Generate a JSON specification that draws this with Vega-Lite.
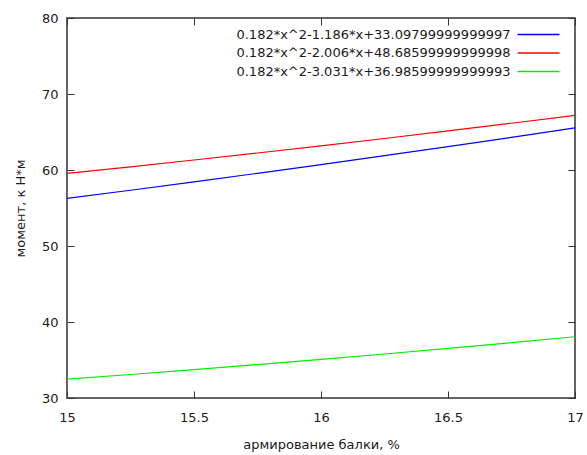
{
  "$schema": "https://vega.github.io/schema/vega-lite/v6.json",
  "width": 508,
  "height": 380,
  "autosize": {"type": "none"},
  "padding": {"left": 67, "top": 18, "right": 12, "bottom": 57},
  "background": "white",
  "config": {
    "font": "DejaVu Sans",
    "view": {"stroke": "#333333", "strokeWidth": 1.5},
    "axis": {"grid": false, "domain": false, "labelFont": "DejaVu Sans", "titleFont": "DejaVu Sans", "labelFontSize": 13, "titleFontSize": 13, "titleFontWeight": "normal", "labelColor": "#1a1a1a", "titleColor": "#1a1a1a", "tickColor": "#333333", "tickWidth": 1}
  },
  "data": {"values": [
    {"x": 15, "y": 56.258, "s": "0.182*x^2-1.186*x+33.09799999999997"},
    {"x": 15.25, "y": 57.338, "s": "0.182*x^2-1.186*x+33.09799999999997"},
    {"x": 15.5, "y": 58.441, "s": "0.182*x^2-1.186*x+33.09799999999997"},
    {"x": 15.75, "y": 59.566, "s": "0.182*x^2-1.186*x+33.09799999999997"},
    {"x": 16, "y": 60.714, "s": "0.182*x^2-1.186*x+33.09799999999997"},
    {"x": 16.25, "y": 61.885, "s": "0.182*x^2-1.186*x+33.09799999999997"},
    {"x": 16.5, "y": 63.079, "s": "0.182*x^2-1.186*x+33.09799999999997"},
    {"x": 16.75, "y": 64.295, "s": "0.182*x^2-1.186*x+33.09799999999997"},
    {"x": 17, "y": 65.534, "s": "0.182*x^2-1.186*x+33.09799999999997"},
    {"x": 15, "y": 59.546, "s": "0.182*x^2-2.006*x+48.68599999999998"},
    {"x": 15.25, "y": 60.421, "s": "0.182*x^2-2.006*x+48.68599999999998"},
    {"x": 15.5, "y": 61.319, "s": "0.182*x^2-2.006*x+48.68599999999998"},
    {"x": 15.75, "y": 62.239, "s": "0.182*x^2-2.006*x+48.68599999999998"},
    {"x": 16, "y": 63.182, "s": "0.182*x^2-2.006*x+48.68599999999998"},
    {"x": 16.25, "y": 64.148, "s": "0.182*x^2-2.006*x+48.68599999999998"},
    {"x": 16.5, "y": 65.137, "s": "0.182*x^2-2.006*x+48.68599999999998"},
    {"x": 16.75, "y": 66.148, "s": "0.182*x^2-2.006*x+48.68599999999998"},
    {"x": 17, "y": 67.182, "s": "0.182*x^2-2.006*x+48.68599999999998"},
    {"x": 15, "y": 32.471, "s": "0.182*x^2-3.031*x+36.98599999999993"},
    {"x": 15.25, "y": 33.090, "s": "0.182*x^2-3.031*x+36.98599999999993"},
    {"x": 15.5, "y": 33.731, "s": "0.182*x^2-3.031*x+36.98599999999993"},
    {"x": 15.75, "y": 34.395, "s": "0.182*x^2-3.031*x+36.98599999999993"},
    {"x": 16, "y": 35.082, "s": "0.182*x^2-3.031*x+36.98599999999993"},
    {"x": 16.25, "y": 35.792, "s": "0.182*x^2-3.031*x+36.98599999999993"},
    {"x": 16.5, "y": 36.524, "s": "0.182*x^2-3.031*x+36.98599999999993"},
    {"x": 16.75, "y": 37.279, "s": "0.182*x^2-3.031*x+36.98599999999993"},
    {"x": 17, "y": 38.057, "s": "0.182*x^2-3.031*x+36.98599999999993"}
  ]},
  "layer": [
    {
      "mark": {"type": "line", "strokeWidth": 1.2, "clip": true},
      "encoding": {
        "x": {"field": "x", "type": "quantitative", "scale": {"domain": [15, 17], "nice": false, "zero": false},
              "axis": {"orient": "bottom", "title": "армирование балки, %", "values": [15, 15.5, 16, 16.5, 17], "format": "~g", "tickSize": -7, "labelPadding": 20, "titlePadding": 14, "labelFlush": false}},
        "y": {"field": "y", "type": "quantitative", "scale": {"domain": [30, 80], "nice": false, "zero": false},
              "axis": {"orient": "left", "title": "момент, к Н*м", "values": [30, 40, 50, 60, 70, 80], "tickSize": -7, "labelPadding": 16, "titlePadding": 14}},
        "color": {"field": "s", "type": "nominal",
                  "sort": ["0.182*x^2-1.186*x+33.09799999999997", "0.182*x^2-2.006*x+48.68599999999998", "0.182*x^2-3.031*x+36.98599999999993"],
                  "scale": {"range": ["#0000ff", "#ff0000", "#00ee00"]},
                  "legend": {"title": null, "orient": "none", "legendX": 461.5, "legendY": 6.5, "padding": 0,
                             "symbolType": "M-2.333,0H2.333", "symbolSize": 324, "symbolStrokeWidth": 1.3, "symbolOpacity": 1,
                             "rowPadding": 1.5, "labelAlign": "right", "labelOffset": -38,
                             "labelFontSize": 13, "labelFont": "DejaVu Sans", "labelColor": "#1a1a1a", "labelLimit": 400}}
      }
    },
    {
      "mark": {"type": "point", "size": 0, "filled": true},
      "encoding": {
        "x": {"field": "x", "type": "quantitative", "axis": {"orient": "top", "title": null, "labels": false, "values": [15, 15.5, 16, 16.5, 17], "tickSize": -7}},
        "y": {"field": "y", "type": "quantitative", "axis": {"orient": "right", "title": null, "labels": false, "values": [30, 40, 50, 60, 70, 80], "tickSize": -7}}
      }
    }
  ],
  "resolve": {"axis": {"x": "independent", "y": "independent"}}
}
